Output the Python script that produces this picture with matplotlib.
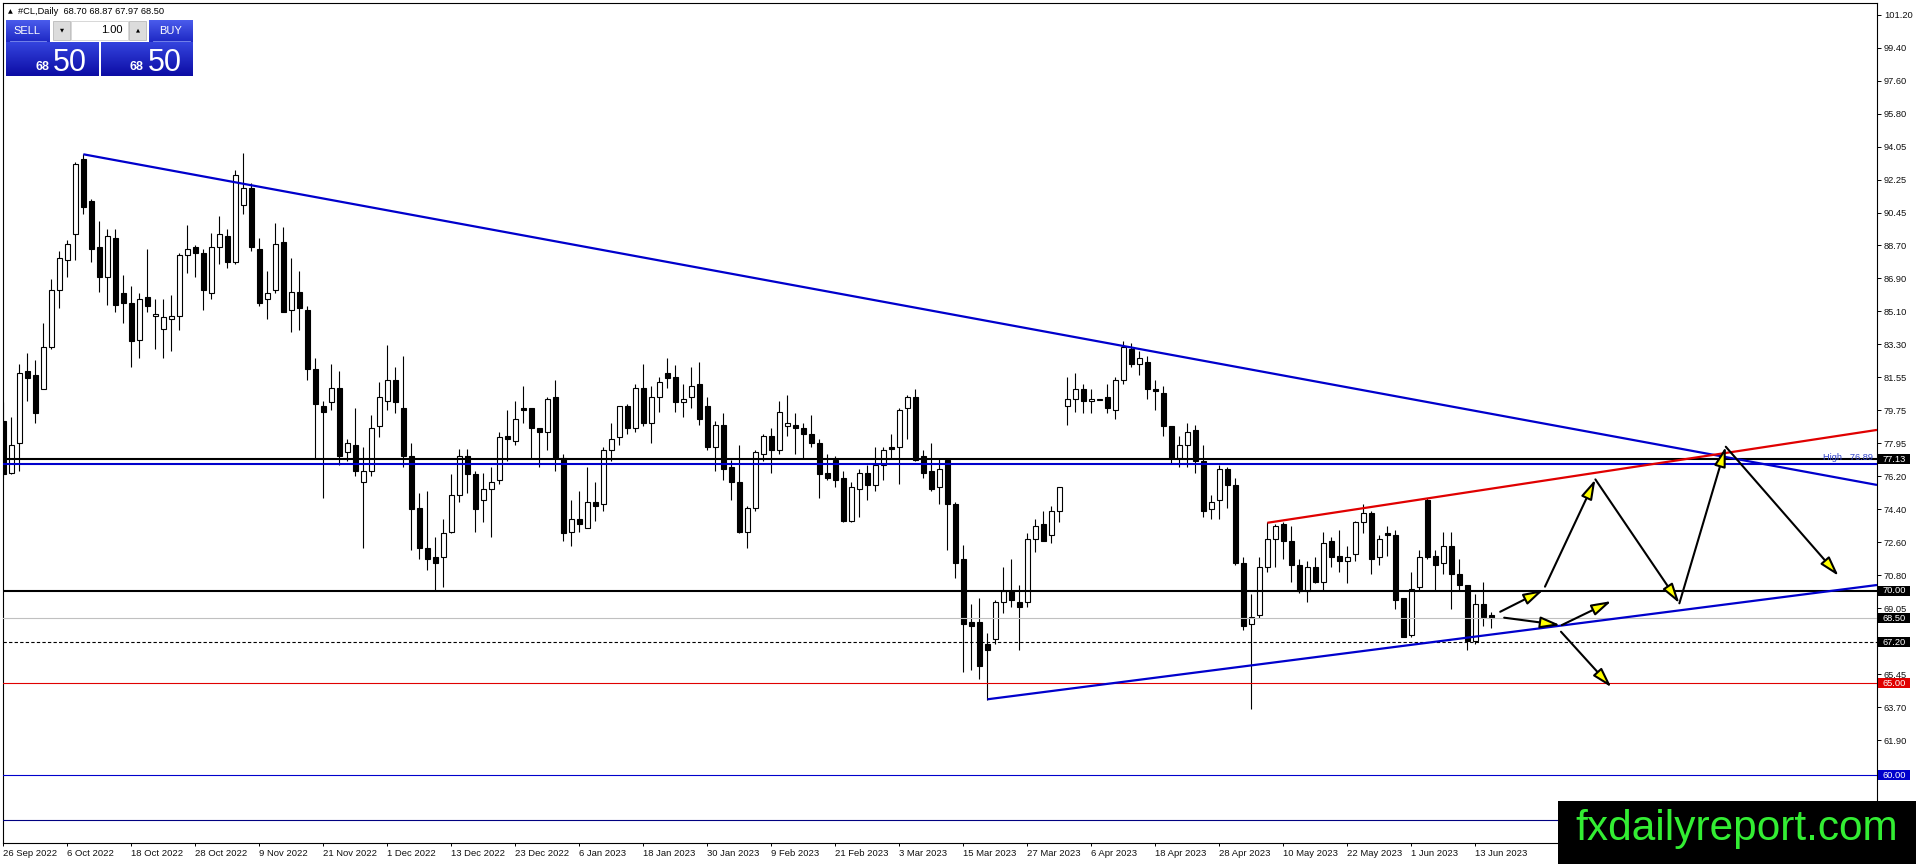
import numpy as np
import matplotlib
matplotlib.use("Agg")
import matplotlib.pyplot as plt
from matplotlib.patches import Rectangle, FancyArrowPatch, ArrowStyle
from matplotlib.colors import LinearSegmentedColormap

plt.rcParams['font.family'] = ['Liberation Sans', 'DejaVu Sans']

# #CL daily bars, 26 Sep 2022 .. 16 Jun 2023
opens = [79.2, 76.4, 78.0, 81.9, 81.7, 80.9, 83.2, 86.3, 87.9, 89.3,
         93.4, 91.1, 88.6, 87.0, 89.1, 86.1, 85.6, 83.6, 85.9, 84.9,
         84.2, 84.7, 84.9, 88.2, 88.6, 88.3, 86.1, 88.6, 89.2, 87.8,
         90.9, 91.8, 88.5, 85.8, 86.3, 88.9, 85.2, 86.2, 85.2, 82.0,
         80.0, 80.2, 81.0, 77.5, 77.9, 75.9, 76.5, 78.9, 80.3, 81.4,
         79.9, 77.3, 74.5, 72.3, 71.8, 71.8, 73.2, 75.2, 77.3, 76.3,
         74.9, 75.5, 76.0, 78.4, 78.1, 79.9, 79.9, 78.8, 78.6, 80.5,
         77.2, 73.2, 73.9, 73.4, 74.8, 74.7, 77.6, 78.3, 80.0, 78.8,
         81.0, 79.1, 80.5, 81.8, 81.6, 80.2, 80.5, 81.2, 80.0, 77.8,
         79.0, 76.7, 75.9, 73.2, 74.5, 77.4, 78.4, 77.6, 78.9, 79.0,
         78.8, 78.5, 78.0, 76.4, 77.1, 76.1, 73.8, 75.5, 76.4, 75.7,
         76.8, 77.8, 77.8, 79.9, 80.5, 77.3, 76.5, 75.6, 77.1, 74.7,
         71.7, 68.3, 68.3, 67.1, 67.4, 69.4, 70.0, 69.4, 69.4, 72.8,
         73.6, 73.0, 74.3, 80.0, 80.4, 80.9, 80.3, 80.35, 80.5, 79.8,
         81.4, 83.1, 82.3, 82.4, 80.9, 80.7, 78.9, 77.2, 77.9, 78.7,
         77.0, 74.4, 74.9, 76.6, 75.7, 71.5, 68.2, 68.7, 71.3, 72.8,
         73.6, 72.7, 71.4, 70.0, 71.3, 70.5, 72.7, 71.9, 71.6, 72.0,
         73.7, 74.2, 71.8, 73.1, 73.0, 69.6, 67.6, 70.2, 74.9, 71.9,
         71.5, 72.4, 70.9, 70.3, 67.3, 69.3, 68.70]
highs = [80.2, 79.4, 82.3, 82.9, 82.5, 84.5, 86.9, 88.4, 89.0, 93.2,
         93.64, 91.2, 90.0, 89.6, 89.6, 87.1, 86.5, 86.1, 88.5, 85.8,
         85.8, 86.0, 88.3, 89.8, 88.7, 88.5, 89.4, 90.3, 89.6, 92.8,
         93.7, 92.1, 89.1, 87.3, 89.9, 89.7, 88.0, 87.3, 85.4, 82.6,
         80.3, 82.3, 81.9, 78.2, 79.9, 77.8, 79.5, 81.3, 83.3, 82.1,
         82.7, 78.0, 75.3, 75.4, 72.9, 73.9, 76.3, 77.7, 77.7, 76.5,
         76.4, 76.7, 78.6, 79.8, 80.3, 81.1, 79.9, 78.8, 80.5, 81.4,
         77.4, 74.9, 75.4, 76.7, 75.9, 77.8, 79.1, 80.0, 80.1, 81.2,
         82.3, 81.1, 81.6, 82.6, 82.2, 81.2, 82.1, 82.4, 80.5, 79.2,
         79.6, 77.1, 77.9, 74.6, 77.6, 78.5, 78.8, 80.3, 80.6, 79.6,
         79.1, 79.5, 78.2, 77.4, 77.3, 76.5, 75.9, 76.6, 76.8, 77.8,
         77.8, 78.5, 79.9, 80.6, 80.9, 77.6, 78.0, 77.2, 77.1, 74.8,
         72.5, 69.3, 69.6, 67.7, 69.5, 71.3, 71.7, 70.3, 73.1, 73.9,
         74.3, 74.6, 75.6, 81.6, 81.8, 81.2, 80.9, 80.35, 81.2, 81.6,
         83.5, 83.4, 83.0, 82.7, 81.4, 81.1, 78.9, 78.4, 79.1, 79.0,
         77.9, 75.2, 76.8, 76.7, 76.1, 71.8, 69.8, 71.8, 73.7, 73.6,
         73.7, 73.5, 71.7, 71.6, 71.8, 73.2, 72.9, 73.3, 72.4, 73.8,
         74.7, 74.3, 73.0, 73.5, 73.3, 69.6, 71.0, 72.2, 75.0, 72.2,
         73.2, 73.2, 71.7, 70.3, 69.8, 70.5, 68.87]
lows = [76.1, 76.3, 76.5, 80.3, 79.1, 80.9, 83.1, 85.3, 87.0, 87.9,
        90.4, 87.8, 86.2, 85.5, 85.1, 84.5, 82.1, 82.6, 85.1, 83.1,
        82.6, 83.0, 84.1, 87.2, 87.0, 85.2, 85.8, 87.7, 87.5, 87.7,
        90.4, 88.4, 85.4, 84.7, 86.1, 85.1, 84.0, 84.1, 81.4, 77.2,
        75.0, 79.8, 76.8, 77.0, 76.2, 72.3, 76.2, 78.3, 79.8, 79.6,
        76.7, 72.2, 71.7, 71.1, 70.0, 70.2, 73.1, 74.8, 75.3, 73.2,
        73.7, 72.9, 75.8, 77.0, 77.9, 79.1, 77.2, 76.7, 77.6, 76.5,
        72.7, 72.4, 73.2, 73.4, 73.8, 74.3, 77.0, 77.9, 78.5, 78.6,
        78.9, 78.0, 79.7, 81.0, 79.7, 79.4, 79.9, 79.0, 77.6, 76.5,
        76.0, 74.9, 73.1, 72.3, 74.3, 77.0, 76.4, 77.4, 78.4, 77.4,
        77.2, 77.8, 75.0, 76.0, 75.6, 73.7, 73.7, 74.0, 74.9, 75.4,
        76.0, 77.2, 75.8, 78.2, 77.0, 76.1, 75.4, 74.7, 72.2, 70.7,
        65.6, 65.7, 65.2, 64.1, 67.1, 68.8, 69.1, 66.8, 69.1, 72.1,
        72.7, 72.6, 73.7, 79.0, 79.7, 79.6, 79.6, 80.35, 79.6, 79.3,
        81.2, 82.1, 81.7, 80.4, 79.8, 78.4, 76.9, 76.7, 76.7, 76.4,
        74.0, 73.9, 73.9, 74.5, 71.4, 67.9, 63.6, 68.5, 71.0, 71.3,
        71.7, 70.5, 69.9, 69.4, 70.4, 70.0, 71.3, 71.0, 70.4, 71.6,
        73.1, 70.9, 71.4, 71.9, 69.0, 67.5, 67.5, 70.0, 71.7, 70.0,
        70.9, 69.0, 70.0, 66.8, 67.1, 68.1, 67.97]
closes = [76.3, 77.9, 81.8, 81.5, 79.6, 83.2, 86.3, 88.0, 88.8, 93.1,
          90.8, 88.5, 87.0, 89.2, 85.5, 85.6, 83.5, 85.8, 85.4, 85.0,
          84.8, 84.9, 88.2, 88.5, 88.3, 86.3, 88.6, 89.3, 87.8, 92.5,
          91.8, 88.6, 85.6, 86.1, 88.8, 85.1, 86.2, 85.3, 82.0, 80.1,
          79.7, 81.0, 77.3, 78.0, 76.5, 76.5, 78.8, 80.5, 81.4, 80.2,
          77.3, 74.4, 72.3, 71.7, 71.5, 73.1, 75.2, 77.3, 76.3, 74.4,
          75.5, 75.9, 78.3, 78.2, 79.3, 79.8, 78.8, 78.6, 80.4, 77.2,
          73.1, 73.9, 73.6, 74.8, 74.6, 77.6, 78.2, 80.0, 78.8, 81.0,
          79.1, 80.5, 81.3, 81.5, 80.2, 80.4, 81.1, 79.3, 77.8, 79.0,
          76.6, 75.9, 73.2, 74.5, 77.5, 78.4, 77.6, 79.7, 79.1, 78.8,
          78.5, 78.0, 76.3, 76.1, 76.0, 73.8, 75.6, 76.4, 75.7, 76.8,
          77.6, 77.7, 79.8, 80.5, 77.1, 76.4, 75.5, 76.6, 74.7, 71.5,
          68.2, 68.1, 65.9, 66.8, 69.4, 70.0, 69.5, 69.1, 72.8, 73.5,
          72.7, 74.3, 75.6, 80.4, 80.9, 80.3, 80.4, 80.35, 79.9, 81.4,
          83.2, 82.3, 82.6, 80.9, 80.8, 78.9, 77.2, 77.9, 78.6, 77.0,
          74.3, 74.8, 76.6, 75.7, 71.5, 68.1, 68.6, 71.3, 72.8, 73.5,
          72.7, 71.4, 70.0, 71.3, 70.5, 72.6, 71.8, 71.6, 71.8, 73.7,
          74.2, 71.7, 72.8, 73.0, 69.5, 67.5, 70.1, 71.8, 71.8, 71.4,
          72.4, 70.9, 70.3, 67.3, 69.3, 68.6, 68.50]

date_labels = ["26 Sep 2022", "6 Oct 2022", "18 Oct 2022", "28 Oct 2022",
               "9 Nov 2022", "21 Nov 2022", "1 Dec 2022", "13 Dec 2022",
               "23 Dec 2022", "6 Jan 2023", "18 Jan 2023", "30 Jan 2023",
               "9 Feb 2023", "21 Feb 2023", "3 Mar 2023", "15 Mar 2023",
               "27 Mar 2023", "6 Apr 2023", "18 Apr 2023", "28 Apr 2023",
               "10 May 2023", "22 May 2023", "1 Jun 2023", "13 Jun 2023"]

price_labels = ["101.20", "99.40", "97.60", "95.80", "94.05", "92.25", "90.45",
                "88.70", "86.90", "85.10", "83.30", "81.55", "79.75", "77.95",
                "76.20", "74.40", "72.60", "70.80", "69.05", "67.25", "65.45",
                "63.70", "61.90", "60.10", "58.35"]

# horizontal levels drawn on the chart
level_prices = [77.13, 76.89, 70.00, 68.50, 67.20, 65.00, 60.00, 57.58]
level_styles = [('black', 1.5, '-'), ('#0000CC', 1.5, '-'), ('black', 1.5, '-'),
                ('#C0C0C0', 0.8, '-'), ('black', 0.8, (0, (3, 2))),
                ('#E00000', 0.8, '-'), ('#0000CC', 0.8, '-'), ('#000080', 0.8, '-')]

# price tags on the right scale
tag_prices = [77.13, 70.00, 68.50, 67.20, 65.00, 60.00]
tag_colors = ['black', 'black', 'black', 'black', '#E00000', '#0000CC']

# trend lines (bar index, price)
falling_line = [(10, 93.64), (234.2, 75.73)]
rising_line = [(123, 64.12), (234.2, 70.31)]
red_line = [(158, 73.68), (234.2, 78.71)]

# projected path arrows (bar index, price)
arrow_paths = [((187.1, 68.86), (192.5, 70.04)),
               ((192.7, 70.22), (199.0, 76.03)),
               ((199.0, 76.03), (209.5, 69.32)),
               ((209.5, 69.32), (215.3, 77.80)),
               ((215.3, 77.80), (229.4, 70.80)),
               ((187.6, 68.54), (194.6, 68.14)),
               ((194.8, 68.14), (201.0, 69.44)),
               ((194.7, 67.78), (201.0, 64.77))]

W, H = 1916, 864
fig = plt.figure(figsize=(W / 100, H / 100), dpi=100)
fig.patch.set_facecolor('white')

L, R, T, B = 2.7, 1877.0, 2.7, 843.3
ax = fig.add_axes([L / W, (H - B) / H, (R - L) / W, (B - T) / H])
ax.set_xlim(-0.075, 234.2)
ax.set_ylim(56.32, 101.85)

o, h, l, c = (np.array(a) for a in (opens, highs, lows, closes))
x = np.arange(len(o))
bull = c >= o
body_lo = np.minimum(o, c)
body_h = np.maximum(np.abs(c - o), 0.04)
ax.vlines(x, l, h, color='black', lw=0.8, zorder=3)
ax.bar(x[bull], body_h[bull], 0.6, bottom=body_lo[bull], color='white',
       edgecolor='black', lw=0.8, zorder=4)
ax.bar(x[~bull], body_h[~bull], 0.6, bottom=body_lo[~bull], color='black',
       edgecolor='black', lw=0.8, zorder=4)

for p, (col, lw, ls) in zip(level_prices, level_styles):
    ax.axhline(p, color=col, lw=lw, ls=ls, zorder=5)

for line, col in ((falling_line, '#0000CC'), (rising_line, '#0000CC'), (red_line, '#E00000')):
    xs, ys = zip(*line)
    ax.plot(xs, ys, color=col, lw=1.6, zorder=6, solid_capstyle='butt')

ax.text(0.9979, 77.19, "High   76.89", transform=ax.get_yaxis_transform(),
        ha='right', va='center', fontsize=6.7, color='#3344CC', zorder=7)

head = ArrowStyle('-|>', head_length=12, head_width=3.5)
for p0, p1 in arrow_paths:
    ax.add_patch(FancyArrowPatch(p0, p1, arrowstyle=head, mutation_scale=1,
                                 shrinkA=0, shrinkB=0, lw=1.5, edgecolor='black',
                                 facecolor='#FFFF00', zorder=8))

# axes look
for s in ax.spines.values():
    s.set_linewidth(0.8)
    s.set_color('black')
ax.yaxis.tick_right()
tick_pos = [101.2 - k * 12.5 / 7 for k in range(len(price_labels))]
ax.set_yticks(tick_pos)
ax.set_yticklabels(price_labels)
ax.tick_params(axis='y', length=3, width=0.7, pad=2, labelsize=6.7, labelcolor='#101010')
ax.set_xticks(range(0, 8 * len(date_labels), 8))
ax.set_xticklabels(date_labels, ha='left')
ax.tick_params(axis='x', length=2.3, width=0.7, pad=1.5, labelsize=6.8, labelcolor='#101010')

hh = 5 / 18.46
tw = 32.5 / (R - L)
for p, col in zip(tag_prices, tag_colors):
    ax.add_patch(Rectangle((1.0003, p - hh), tw, 2 * hh, transform=ax.get_yaxis_transform(),
                           facecolor=col, edgecolor='none', clip_on=False, zorder=9))
    ax.text(1.0003 + tw / 2, p, f"{p:.2f}", transform=ax.get_yaxis_transform(),
            ha='center', va='center', color='white', fontsize=6.7, zorder=10, clip_on=False)

# overlay in pixel coordinates for the trade panel and watermark
ui = fig.add_axes([0, 0, 1, 1], zorder=20)
ui.patch.set_visible(False)
ui.axis('off')

hdr = LinearSegmentedColormap.from_list('hdr', ['#4A5CEC', '#1E28C4'])
body = LinearSegmentedColormap.from_list('body', ['#3444DE', '#0C0CA4'])
grad = np.linspace(0, 1, 64).reshape(-1, 1)


def gbox(x0, y0, x1, y1, cmap):
    ui.imshow(grad, extent=(x0, x1, y1, y0), aspect='auto', cmap=cmap,
              interpolation='bilinear', zorder=2)


ui.text(10.3, 11.3, "\u25B2", fontsize=4.5, ha='center', va='center', family='DejaVu Sans')
ui.text(18, 11.3, "#CL,Daily  68.70 68.87 67.97 68.50", fontsize=6.7, ha='left', va='center')

gbox(6, 20, 49.5, 42, hdr)
gbox(149, 20, 193, 42, hdr)
gbox(6, 42.3, 98.5, 76, body)
gbox(101, 42.3, 193, 76, body)
ui.add_patch(Rectangle((53, 21), 17.5, 18.5, facecolor='#DCDCDC', edgecolor='#B0B0B0', lw=0.5, zorder=3))
ui.add_patch(Rectangle((71.5, 21), 57, 18.5, facecolor='white', edgecolor='#C8C8C8', lw=0.5, zorder=3))
ui.add_patch(Rectangle((129, 21), 17.5, 18.5, facecolor='#DCDCDC', edgecolor='#B0B0B0', lw=0.5, zorder=3))
ui.text(61.8, 30, "\u25BC", fontsize=3.8, ha='center', va='center', family='DejaVu Sans', zorder=4)
ui.text(137.8, 30, "\u25B2", fontsize=3.8, ha='center', va='center', family='DejaVu Sans', zorder=4)
ui.text(123, 30, "1.00", fontsize=8, ha='right', va='center', zorder=4)
ui.plot([10, 46], [41.3, 41.3], color='#8090F0', lw=0.6, zorder=4)
ui.plot([153, 190], [41.3, 41.3], color='#8090F0', lw=0.6, zorder=4)
ui.text(27, 31, "SELL", fontsize=8, color='white', ha='center', va='center', zorder=4)
ui.text(171, 31, "BUY", fontsize=8, color='white', ha='center', va='center', zorder=4)
for xr, xl in ((49.5, 53), (143.5, 148)):
    ui.text(xr, 70.3, "68", fontsize=9, fontweight='bold', color='white',
            ha='right', va='baseline', zorder=4)
    ui.text(xl, 70.6, "50", fontsize=22, color='white', ha='left', va='baseline', zorder=4)

ui.add_patch(Rectangle((1558, 801), W - 1558, H - 801, facecolor='black', edgecolor='none', zorder=5))
ui.text(1575, 840, "fxdailyreport.com", fontsize=30.5, color='#33EE33',
        ha='left', va='baseline', zorder=6)

ui.set_xlim(0, W)
ui.set_ylim(H, 0)

fig.savefig('out.png', dpi=100)
